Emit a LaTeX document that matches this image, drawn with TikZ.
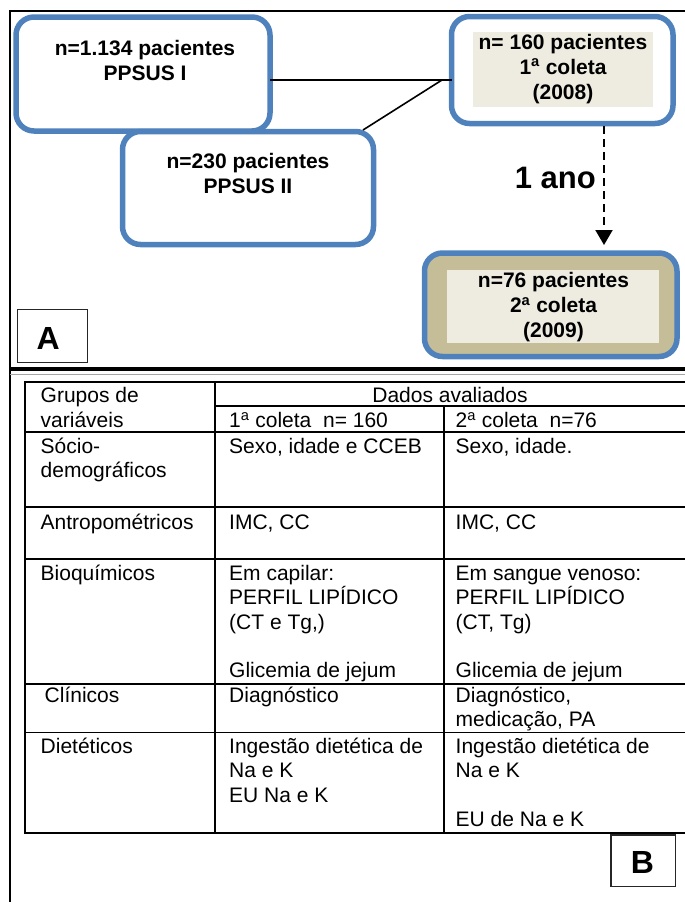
\documentclass[tikz,border=0pt]{standalone}
\usepackage{fontspec}
\setmainfont{Liberation Sans}
\usetikzlibrary{arrows.meta}
\definecolor{boxblue}{HTML}{4F81BD}
\definecolor{boxbeige}{HTML}{EEECE1}
\definecolor{boxtan}{HTML}{C4BD97}
\newcommand\cellfont{\fontsize{21}{24.4}\selectfont}
\newcommand\hstrut{\rule{0pt}{17.2pt}}
\begin{document}
\begin{tikzpicture}[x=1pt,y=-1pt,
  bluebox/.style={draw=boxblue, line width=5.5pt, rounded corners=18pt, fill=white, inner sep=0pt, outer sep=0pt},
  tanbox/.style={bluebox, fill=boxtan},
  inbeige/.style={fill=boxbeige, draw=none, inner sep=0pt, outer sep=0pt},
  btext/.style={font=\bfseries\fontsize{21}{25}\selectfont, align=center, inner sep=0pt},
  conn/.style={draw=black, line width=1.6pt},
  dasharrow/.style={draw=black, line width=2pt, dash pattern=on 8pt off 5pt, -{Triangle[width=17pt,length=15pt]}},
  labelbox/.style={draw=black!85, line width=1.5pt, inner sep=0pt, outer sep=0pt},
  bigletter/.style={font=\bfseries\fontsize{32}{36}\selectfont, inner sep=0pt},
  frameline/.style={draw=black, line width=2pt},
  tbl/.style={draw=black, line width=1.8pt},
  cell/.style={anchor=north west, inner sep=0pt, align=left, font=\cellfont},
]
\useasboundingbox (0,0) rectangle (685,902);

% outer frame
\draw[frameline] (690,11) -- (10,11) -- (10,905);

% ---------- panel A ----------
\node[bluebox, minimum width=254pt, minimum height=114pt] (b1) at (143,74) {};
\node[bluebox, minimum width=251pt, minimum height=113pt] (b2) at (248,188) {};
\node[bluebox, minimum width=221.5pt, minimum height=107pt] (b3) at (562.25,70) {};
\node[inbeige, minimum width=180pt, minimum height=75pt] (b3in) at (563,69.5) {};
\node[tanbox, minimum width=252.5pt, minimum height=103.5pt] (b4) at (550.75,304.75) {};
\node[inbeige, minimum width=212pt, minimum height=73pt] (b4in) at (553,306.5) {};

\node[btext] (t1) at (145,60.5) {n=1.134 pacientes\\PPSUS I};
\node[btext] (t2) at (248,173.5) {n=230 pacientes\\PPSUS II};
\node[btext] (t3) at (563,69) {n= 160 pacientes\\1\textsuperscript{a} coleta\\(2008)};
\node[btext] (t4) at (553.5,307.5) {n=76 pacientes\\2\textsuperscript{a} coleta\\(2009)};

\coordinate (j) at (442,80);
\coordinate (d2) at (363,130);
\coordinate (ax) at (604,0);
\draw[conn] (b1.east |- j) -- (b3.west |- j);
\draw[conn] (j) -- (d2);
\draw[dasharrow, shorten <=2.75pt, shorten >=8pt] (b3.south -| ax) -- (b4.north -| ax);
\node[font=\bfseries\fontsize{31}{36}\selectfont, anchor=east, inner sep=0pt] (ano) at (596,178) {1 ano};

\node[labelbox, minimum width=70pt, minimum height=53pt] (boxA) at (52.5,336) {};
\node[bigletter] (lA) at (48.3,338) {A};

% separator
\draw[line width=4pt] (10,369) -- (690,369);
\draw[black!35, line width=1pt] (10,374.5) -- (690,374.5);

% ---------- panel B (table) ----------
\draw[tbl] (690,382) -- (25,382) -- (25,833) -- (690,833);
\draw[tbl] (215,382) -- (215,833);
\draw[tbl] (444,406) -- (444,833);
\draw[tbl] (215,406) -- (690,406);
\foreach \yy in {432,507,559,684,732.5} \draw[tbl] (25,\yy) -- (690,\yy);

\node[cell] (h1) at (40.5,385.3) {\hstrut Grupos de\\variáveis};
\node[font=\cellfont, anchor=base, inner sep=0pt] (h2) at (450,402.5) {Dados avaliados};
\node[cell] (h3) at (229,410.3) {\hstrut 1\textsuperscript{a} coleta~~n= 160};
\node[cell] (h4) at (455.5,410.3) {\hstrut 2\textsuperscript{a} coleta~~n=76};

\node[cell] (r1a) at (40.5,435.8) {\hstrut Sócio-\\demográficos};
\node[cell] (r1b) at (229,435.8) {\hstrut Sexo, idade e CCEB};
\node[cell] (r1c) at (455.5,435.8) {\hstrut Sexo, idade.};

\node[cell] (r2a) at (40.5,512.3) {\hstrut Antropométricos};
\node[cell] (r2b) at (229,512.3) {\hstrut IMC, CC};
\node[cell] (r2c) at (455.5,512.3) {\hstrut IMC, CC};

\node[cell] (r3a) at (40.5,562.8) {\hstrut Bioquímicos};
\node[cell] (r3b) at (229,562.8) {\hstrut Em capilar:\\PERFIL LIPÍDICO\\(CT e Tg,)\\~\\Glicemia de jejum};
\node[cell] (r3c) at (455.5,562.8) {\hstrut Em sangue venoso:\\PERFIL LIPÍDICO\\(CT, Tg)\\~\\Glicemia de jejum};

\node[cell] (r4a) at (44.5,684.8) {\hstrut Clínicos};
\node[cell] (r4b) at (229,684.8) {\hstrut Diagnóstico};
\node[cell] (r4c) at (455.5,684.8) {\hstrut Diagnóstico,\\medicação, PA};

\node[cell] (r5a) at (40.5,735.8) {\hstrut Dietéticos};
\node[cell] (r5b) at (229,735.8) {\hstrut Ingestão dietética de\\Na e K\\EU Na e K};
\node[cell] (r5c) at (455.5,735.8) {\hstrut Ingestão dietética de\\Na e K\\~\\EU de Na e K};

\node[labelbox, minimum width=64.5pt, minimum height=51.5pt] (boxB) at (643,860.5) {};
\node[bigletter] (lB) at (642.3,862) {B};
\end{tikzpicture}
\end{document}
